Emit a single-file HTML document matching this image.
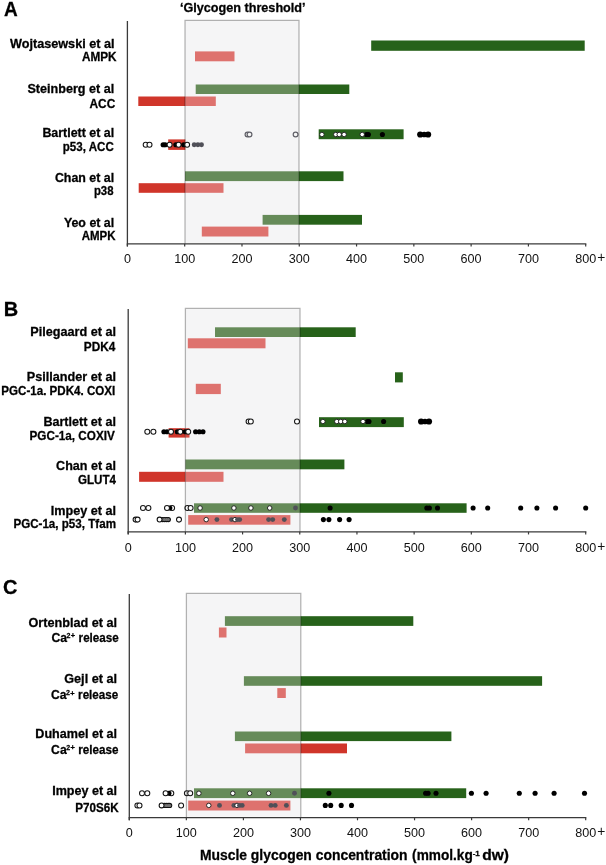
<!DOCTYPE html>
<html><head><meta charset="utf-8"><style>
html,body{margin:0;padding:0;background:#fff;}
svg{display:block;font-family:"Liberation Sans",sans-serif;}
text[font-weight="bold"]{stroke:#000;stroke-width:0.28px;}
svg{filter:blur(0.35px);}
</style></head><body>
<svg width="606" height="865" viewBox="0 0 606 865" fill="#000">
<rect x="185.00" y="20.30" width="114.00" height="222.60" fill="#f5f5f6"/>
<rect x="371.20" y="40.50" width="213.50" height="10.30" fill="#27621a"/>
<rect x="195.00" y="51.40" width="39.50" height="9.90" fill="#de726e"/>
<rect x="195.70" y="84.50" width="103.30" height="9.50" fill="#668b59"/>
<rect x="299.00" y="84.50" width="50.30" height="9.50" fill="#27621a"/>
<rect x="138.30" y="96.50" width="46.70" height="9.50" fill="#d0352a"/>
<rect x="185.00" y="96.50" width="30.80" height="9.50" fill="#de726e"/>
<rect x="168.20" y="139.40" width="16.80" height="10.50" fill="#d0352a"/>
<rect x="185.00" y="139.40" width="0.50" height="10.50" fill="#de726e"/>
<rect x="318.70" y="129.30" width="84.90" height="9.90" fill="#27621a"/>
<rect x="185.00" y="171.30" width="114.00" height="9.80" fill="#668b59"/>
<rect x="299.00" y="171.30" width="44.50" height="9.80" fill="#27621a"/>
<rect x="138.70" y="183.20" width="46.30" height="9.60" fill="#d0352a"/>
<rect x="185.00" y="183.20" width="38.50" height="9.60" fill="#de726e"/>
<rect x="262.60" y="214.90" width="36.40" height="9.80" fill="#668b59"/>
<rect x="299.00" y="214.90" width="63.00" height="9.80" fill="#27621a"/>
<rect x="201.80" y="226.60" width="66.60" height="9.90" fill="#de726e"/>
<circle cx="145.7" cy="144.8" r="2.5" fill="#fff" stroke="#151515" stroke-width="1.05"/>
<circle cx="149.5" cy="144.8" r="2.5" fill="#fff" stroke="#151515" stroke-width="1.05"/>
<circle cx="163.1" cy="144.8" r="2.55" fill="#000"/>
<circle cx="165.2" cy="144.8" r="2.55" fill="#000"/>
<circle cx="169.6" cy="144.8" r="2.5" fill="#fff" stroke="#151515" stroke-width="1.05"/>
<circle cx="175.8" cy="144.8" r="2.55" fill="#000"/>
<circle cx="178.6" cy="144.8" r="2.5" fill="#fff" stroke="#151515" stroke-width="1.05"/>
<circle cx="183.7" cy="144.8" r="2.55" fill="#000"/>
<circle cx="187.1" cy="144.8" r="2.5" fill="#fff" stroke="#151515" stroke-width="1.05"/>
<circle cx="194.2" cy="144.8" r="2.45" fill="#505058"/>
<circle cx="197.9" cy="144.8" r="2.45" fill="#505058"/>
<circle cx="201.5" cy="144.8" r="2.45" fill="#505058"/>
<circle cx="247.5" cy="134.5" r="2.4" fill="#f6f6f6" stroke="#606068" stroke-width="1.2"/>
<circle cx="249.5" cy="134.5" r="2.4" fill="#f6f6f6" stroke="#606068" stroke-width="1.2"/>
<circle cx="295.6" cy="134.5" r="2.4" fill="#f6f6f6" stroke="#606068" stroke-width="1.2"/>
<circle cx="321.9" cy="134.5" r="2.25" fill="#fff" stroke="#1a1a1a" stroke-width="0.9"/>
<circle cx="335.8" cy="134.5" r="2.25" fill="#fff" stroke="#1a1a1a" stroke-width="0.9"/>
<circle cx="339.2" cy="134.5" r="2.25" fill="#fff" stroke="#1a1a1a" stroke-width="0.9"/>
<circle cx="344.1" cy="134.5" r="2.25" fill="#fff" stroke="#1a1a1a" stroke-width="0.9"/>
<circle cx="366.5" cy="134.5" r="2.55" fill="#000"/>
<circle cx="368.4" cy="134.5" r="2.55" fill="#000"/>
<circle cx="362.2" cy="134.5" r="2.25" fill="#fff" stroke="#1a1a1a" stroke-width="0.9"/>
<circle cx="382.4" cy="134.5" r="2.55" fill="#000"/>
<circle cx="420.2" cy="134.5" r="3.1" fill="#000"/>
<circle cx="428.1" cy="134.5" r="3.1" fill="#000"/>
<circle cx="424.2" cy="134.5" r="2.85" fill="#000"/>
<path d="M185.0 243.9 V20.3 H299.0 V243.9" fill="none" stroke="rgba(0,0,0,0.29)" stroke-width="1.25"/>
<line x1="127.4" y1="21" x2="127.4" y2="246.4" stroke="#3a3a3a" stroke-width="1.3"/>
<line x1="126.75" y1="243.9" x2="586.35" y2="243.9" stroke="#3a3a3a" stroke-width="1.3"/>
<line x1="127.40" y1="243.9" x2="127.40" y2="246.5" stroke="#3a3a3a" stroke-width="1.2"/>
<text x="127.40" y="262.9" font-size="12.6" font-weight="normal" text-anchor="middle" fill="#111">0</text>
<line x1="184.69" y1="243.9" x2="184.69" y2="246.5" stroke="#3a3a3a" stroke-width="1.2"/>
<text x="184.69" y="262.9" font-size="12.6" font-weight="normal" text-anchor="middle" fill="#111">100</text>
<line x1="241.98" y1="243.9" x2="241.98" y2="246.5" stroke="#3a3a3a" stroke-width="1.2"/>
<text x="241.98" y="262.9" font-size="12.6" font-weight="normal" text-anchor="middle" fill="#111">200</text>
<line x1="299.26" y1="243.9" x2="299.26" y2="246.5" stroke="#3a3a3a" stroke-width="1.2"/>
<text x="299.26" y="262.9" font-size="12.6" font-weight="normal" text-anchor="middle" fill="#111">300</text>
<line x1="356.55" y1="243.9" x2="356.55" y2="246.5" stroke="#3a3a3a" stroke-width="1.2"/>
<text x="356.55" y="262.9" font-size="12.6" font-weight="normal" text-anchor="middle" fill="#111">400</text>
<line x1="413.84" y1="243.9" x2="413.84" y2="246.5" stroke="#3a3a3a" stroke-width="1.2"/>
<text x="413.84" y="262.9" font-size="12.6" font-weight="normal" text-anchor="middle" fill="#111">500</text>
<line x1="471.12" y1="243.9" x2="471.12" y2="246.5" stroke="#3a3a3a" stroke-width="1.2"/>
<text x="471.12" y="262.9" font-size="12.6" font-weight="normal" text-anchor="middle" fill="#111">600</text>
<line x1="528.41" y1="243.9" x2="528.41" y2="246.5" stroke="#3a3a3a" stroke-width="1.2"/>
<text x="528.41" y="262.9" font-size="12.6" font-weight="normal" text-anchor="middle" fill="#111">700</text>
<line x1="585.70" y1="243.9" x2="585.70" y2="246.5" stroke="#3a3a3a" stroke-width="1.2"/>
<text x="585.70" y="262.9" font-size="12.6" font-weight="normal" text-anchor="middle" fill="#111">800</text>
<text x="597.30" y="262.29999999999995" font-size="13.8" fill="#111">+</text>
<rect x="185.40" y="308.40" width="114.60" height="222.45" fill="#f5f5f6"/>
<rect x="215.00" y="327.30" width="85.00" height="9.70" fill="#668b59"/>
<rect x="300.00" y="327.30" width="55.70" height="9.70" fill="#27621a"/>
<rect x="187.80" y="338.30" width="77.70" height="10.00" fill="#de726e"/>
<rect x="395.00" y="372.30" width="7.80" height="10.10" fill="#27621a"/>
<rect x="195.80" y="383.80" width="25.00" height="10.30" fill="#de726e"/>
<rect x="168.60" y="428.20" width="16.80" height="9.40" fill="#d0352a"/>
<rect x="185.40" y="428.20" width="4.10" height="9.40" fill="#d94c42"/>
<rect x="319.00" y="417.20" width="84.80" height="9.90" fill="#27621a"/>
<rect x="185.40" y="459.50" width="114.60" height="9.80" fill="#668b59"/>
<rect x="300.00" y="459.50" width="44.40" height="9.80" fill="#27621a"/>
<rect x="139.10" y="471.80" width="46.30" height="10.00" fill="#d0352a"/>
<rect x="185.40" y="471.80" width="38.10" height="10.00" fill="#de726e"/>
<rect x="194.00" y="503.30" width="106.00" height="9.50" fill="#668b59"/>
<rect x="300.00" y="503.30" width="166.60" height="9.50" fill="#27621a"/>
<rect x="188.20" y="515.10" width="102.20" height="9.60" fill="#de726e"/>
<circle cx="147.3" cy="431.8" r="2.5" fill="#fff" stroke="#151515" stroke-width="1.05"/>
<circle cx="153.4" cy="431.8" r="2.5" fill="#fff" stroke="#151515" stroke-width="1.05"/>
<circle cx="163.9" cy="431.8" r="2.55" fill="#000"/>
<circle cx="167.0" cy="431.8" r="2.55" fill="#000"/>
<circle cx="171.0" cy="431.8" r="2.5" fill="#fff" stroke="#151515" stroke-width="1.05"/>
<circle cx="177.3" cy="431.8" r="2.55" fill="#000"/>
<circle cx="180.3" cy="431.8" r="2.5" fill="#fff" stroke="#151515" stroke-width="1.05"/>
<circle cx="185.2" cy="431.8" r="2.55" fill="#000"/>
<circle cx="188.2" cy="431.8" r="2.5" fill="#fff" stroke="#151515" stroke-width="1.05"/>
<circle cx="195.6" cy="431.8" r="2.55" fill="#000"/>
<circle cx="199.3" cy="431.8" r="2.55" fill="#000"/>
<circle cx="203.0" cy="431.8" r="2.55" fill="#000"/>
<circle cx="248.6" cy="421.5" r="2.5" fill="#fff" stroke="#151515" stroke-width="1.05"/>
<circle cx="250.8" cy="421.5" r="2.5" fill="#fff" stroke="#151515" stroke-width="1.05"/>
<circle cx="297.0" cy="421.5" r="2.5" fill="#fff" stroke="#151515" stroke-width="1.05"/>
<circle cx="322.9" cy="421.5" r="2.25" fill="#fff" stroke="#1a1a1a" stroke-width="0.9"/>
<circle cx="336.8" cy="421.5" r="2.25" fill="#fff" stroke="#1a1a1a" stroke-width="0.9"/>
<circle cx="340.7" cy="421.5" r="2.25" fill="#fff" stroke="#1a1a1a" stroke-width="0.9"/>
<circle cx="344.8" cy="421.5" r="2.25" fill="#fff" stroke="#1a1a1a" stroke-width="0.9"/>
<circle cx="367.5" cy="421.5" r="2.55" fill="#000"/>
<circle cx="369.0" cy="421.5" r="2.55" fill="#000"/>
<circle cx="363.0" cy="421.5" r="2.25" fill="#fff" stroke="#1a1a1a" stroke-width="0.9"/>
<circle cx="383.6" cy="421.5" r="2.55" fill="#000"/>
<circle cx="421.1" cy="421.5" r="3.1" fill="#000"/>
<circle cx="429.0" cy="421.5" r="3.1" fill="#000"/>
<circle cx="425.0" cy="421.5" r="2.85" fill="#000"/>
<circle cx="143.0" cy="508.0" r="2.5" fill="#fff" stroke="#151515" stroke-width="1.05"/>
<circle cx="148.4" cy="508.0" r="2.5" fill="#fff" stroke="#151515" stroke-width="1.05"/>
<circle cx="172.1" cy="508.0" r="2.5" fill="#fff" stroke="#151515" stroke-width="1.05"/>
<circle cx="169.8" cy="508.0" r="2.55" fill="#000"/>
<circle cx="167.0" cy="508.0" r="2.5" fill="#fff" stroke="#151515" stroke-width="1.05"/>
<circle cx="187.4" cy="508.0" r="2.5" fill="#fff" stroke="#151515" stroke-width="1.05"/>
<circle cx="190.6" cy="508.0" r="2.5" fill="#fff" stroke="#151515" stroke-width="1.05"/>
<circle cx="200.1" cy="508.0" r="2.25" fill="#fff" stroke="#1a1a1a" stroke-width="0.9"/>
<circle cx="233.9" cy="508.0" r="2.25" fill="#fff" stroke="#1a1a1a" stroke-width="0.9"/>
<circle cx="250.9" cy="508.0" r="2.25" fill="#fff" stroke="#1a1a1a" stroke-width="0.9"/>
<circle cx="269.7" cy="508.0" r="2.25" fill="#fff" stroke="#1a1a1a" stroke-width="0.9"/>
<circle cx="295.5" cy="508.0" r="2.45" fill="#505058"/>
<circle cx="330.1" cy="508.0" r="2.55" fill="#000"/>
<circle cx="426.8" cy="508.0" r="2.55" fill="#000"/>
<circle cx="429.4" cy="508.0" r="2.55" fill="#000"/>
<circle cx="437.5" cy="508.0" r="2.55" fill="#000"/>
<circle cx="473.1" cy="508.0" r="2.55" fill="#000"/>
<circle cx="487.7" cy="508.0" r="2.55" fill="#000"/>
<circle cx="520.7" cy="508.0" r="2.55" fill="#000"/>
<circle cx="536.9" cy="508.0" r="2.55" fill="#000"/>
<circle cx="555.6" cy="508.0" r="2.55" fill="#000"/>
<circle cx="585.7" cy="508.0" r="2.55" fill="#000"/>
<circle cx="162.5" cy="519.6" r="2.55" fill="#111"/>
<circle cx="164.5" cy="519.6" r="2.55" fill="#111"/>
<circle cx="166.5" cy="519.6" r="2.55" fill="#111"/>
<circle cx="168.4" cy="519.6" r="2.55" fill="#111"/>
<circle cx="162.5" cy="519.6" r="1.5" fill="#777"/>
<circle cx="164.5" cy="519.6" r="1.5" fill="#777"/>
<circle cx="166.5" cy="519.6" r="1.5" fill="#777"/>
<circle cx="168.4" cy="519.6" r="1.5" fill="#777"/>
<circle cx="159.6" cy="519.6" r="2.45" fill="#fff" stroke="#111" stroke-width="1.1"/>
<circle cx="135.6" cy="519.6" r="2.5" fill="#fff" stroke="#151515" stroke-width="1.05"/>
<circle cx="137.6" cy="519.6" r="2.5" fill="#fff" stroke="#151515" stroke-width="1.05"/>
<circle cx="179.0" cy="519.6" r="2.5" fill="#fff" stroke="#151515" stroke-width="1.05"/>
<circle cx="206.2" cy="519.6" r="2.25" fill="#fff" stroke="#1a1a1a" stroke-width="0.9"/>
<circle cx="216.9" cy="519.6" r="2.45" fill="#505058"/>
<circle cx="231.5" cy="519.6" r="2.45" fill="#505058"/>
<circle cx="235.0" cy="519.6" r="2.25" fill="#fff" stroke="#1a1a1a" stroke-width="0.9"/>
<circle cx="237.5" cy="519.6" r="2.45" fill="#505058"/>
<circle cx="239.7" cy="519.6" r="2.45" fill="#505058"/>
<circle cx="268.6" cy="519.6" r="2.45" fill="#505058"/>
<circle cx="272.7" cy="519.6" r="2.45" fill="#505058"/>
<circle cx="284.3" cy="519.6" r="2.45" fill="#505058"/>
<circle cx="323.4" cy="519.6" r="2.55" fill="#000"/>
<circle cx="328.9" cy="519.6" r="2.55" fill="#000"/>
<circle cx="339.6" cy="519.6" r="2.55" fill="#000"/>
<circle cx="349.1" cy="519.6" r="2.55" fill="#000"/>
<path d="M185.4 531.85 V308.4 H300.0 V531.85" fill="none" stroke="rgba(0,0,0,0.29)" stroke-width="1.25"/>
<line x1="128.2" y1="309" x2="128.2" y2="534.35" stroke="#3a3a3a" stroke-width="1.3"/>
<line x1="127.54999999999998" y1="531.85" x2="586.35" y2="531.85" stroke="#3a3a3a" stroke-width="1.3"/>
<line x1="128.20" y1="531.85" x2="128.20" y2="534.45" stroke="#3a3a3a" stroke-width="1.2"/>
<text x="128.20" y="551.7" font-size="12.6" font-weight="normal" text-anchor="middle" fill="#111">0</text>
<line x1="185.39" y1="531.85" x2="185.39" y2="534.45" stroke="#3a3a3a" stroke-width="1.2"/>
<text x="185.39" y="551.7" font-size="12.6" font-weight="normal" text-anchor="middle" fill="#111">100</text>
<line x1="242.57" y1="531.85" x2="242.57" y2="534.45" stroke="#3a3a3a" stroke-width="1.2"/>
<text x="242.57" y="551.7" font-size="12.6" font-weight="normal" text-anchor="middle" fill="#111">200</text>
<line x1="299.76" y1="531.85" x2="299.76" y2="534.45" stroke="#3a3a3a" stroke-width="1.2"/>
<text x="299.76" y="551.7" font-size="12.6" font-weight="normal" text-anchor="middle" fill="#111">300</text>
<line x1="356.95" y1="531.85" x2="356.95" y2="534.45" stroke="#3a3a3a" stroke-width="1.2"/>
<text x="356.95" y="551.7" font-size="12.6" font-weight="normal" text-anchor="middle" fill="#111">400</text>
<line x1="414.14" y1="531.85" x2="414.14" y2="534.45" stroke="#3a3a3a" stroke-width="1.2"/>
<text x="414.14" y="551.7" font-size="12.6" font-weight="normal" text-anchor="middle" fill="#111">500</text>
<line x1="471.33" y1="531.85" x2="471.33" y2="534.45" stroke="#3a3a3a" stroke-width="1.2"/>
<text x="471.33" y="551.7" font-size="12.6" font-weight="normal" text-anchor="middle" fill="#111">600</text>
<line x1="528.51" y1="531.85" x2="528.51" y2="534.45" stroke="#3a3a3a" stroke-width="1.2"/>
<text x="528.51" y="551.7" font-size="12.6" font-weight="normal" text-anchor="middle" fill="#111">700</text>
<line x1="585.70" y1="531.85" x2="585.70" y2="534.45" stroke="#3a3a3a" stroke-width="1.2"/>
<text x="585.70" y="551.7" font-size="12.6" font-weight="normal" text-anchor="middle" fill="#111">800</text>
<text x="597.30" y="551.1" font-size="13.8" fill="#111">+</text>
<rect x="186.40" y="593.30" width="114.40" height="223.40" fill="#f5f5f6"/>
<rect x="224.90" y="616.20" width="75.90" height="9.70" fill="#668b59"/>
<rect x="300.80" y="616.20" width="112.50" height="9.70" fill="#27621a"/>
<rect x="218.90" y="627.50" width="7.60" height="10.00" fill="#de726e"/>
<rect x="243.90" y="676.20" width="56.90" height="9.60" fill="#668b59"/>
<rect x="300.80" y="676.20" width="241.30" height="9.60" fill="#27621a"/>
<rect x="277.30" y="688.10" width="8.50" height="9.90" fill="#de726e"/>
<rect x="234.90" y="731.50" width="65.90" height="9.60" fill="#668b59"/>
<rect x="300.80" y="731.50" width="150.60" height="9.60" fill="#27621a"/>
<rect x="245.10" y="743.50" width="55.70" height="9.80" fill="#de726e"/>
<rect x="300.80" y="743.50" width="46.20" height="9.80" fill="#d0352a"/>
<rect x="194.00" y="788.30" width="106.80" height="9.80" fill="#668b59"/>
<rect x="300.80" y="788.30" width="165.40" height="9.80" fill="#27621a"/>
<rect x="188.20" y="800.60" width="102.20" height="9.90" fill="#de726e"/>
<circle cx="142.0" cy="793.3" r="2.5" fill="#fff" stroke="#151515" stroke-width="1.05"/>
<circle cx="147.3" cy="793.3" r="2.5" fill="#fff" stroke="#151515" stroke-width="1.05"/>
<circle cx="171.3" cy="793.3" r="2.5" fill="#fff" stroke="#151515" stroke-width="1.05"/>
<circle cx="168.9" cy="793.3" r="2.55" fill="#000"/>
<circle cx="165.6" cy="793.3" r="2.5" fill="#fff" stroke="#151515" stroke-width="1.05"/>
<circle cx="186.9" cy="793.3" r="2.5" fill="#fff" stroke="#151515" stroke-width="1.05"/>
<circle cx="190.2" cy="793.3" r="2.5" fill="#fff" stroke="#151515" stroke-width="1.05"/>
<circle cx="198.9" cy="793.3" r="2.25" fill="#fff" stroke="#1a1a1a" stroke-width="0.9"/>
<circle cx="232.8" cy="793.3" r="2.25" fill="#fff" stroke="#1a1a1a" stroke-width="0.9"/>
<circle cx="249.6" cy="793.3" r="2.25" fill="#fff" stroke="#1a1a1a" stroke-width="0.9"/>
<circle cx="268.6" cy="793.3" r="2.25" fill="#fff" stroke="#1a1a1a" stroke-width="0.9"/>
<circle cx="294.5" cy="793.3" r="2.45" fill="#505058"/>
<circle cx="328.9" cy="793.3" r="2.55" fill="#000"/>
<circle cx="425.6" cy="793.3" r="2.55" fill="#000"/>
<circle cx="428.1" cy="793.3" r="2.55" fill="#000"/>
<circle cx="436.0" cy="793.3" r="2.55" fill="#000"/>
<circle cx="471.4" cy="793.3" r="2.55" fill="#000"/>
<circle cx="486.1" cy="793.3" r="2.55" fill="#000"/>
<circle cx="519.3" cy="793.3" r="2.55" fill="#000"/>
<circle cx="535.1" cy="793.3" r="2.55" fill="#000"/>
<circle cx="554.1" cy="793.3" r="2.55" fill="#000"/>
<circle cx="584.5" cy="793.3" r="2.55" fill="#000"/>
<circle cx="164.4" cy="805.4" r="2.55" fill="#111"/>
<circle cx="166.3" cy="805.4" r="2.55" fill="#111"/>
<circle cx="168.2" cy="805.4" r="2.55" fill="#111"/>
<circle cx="169.7" cy="805.4" r="2.55" fill="#111"/>
<circle cx="164.4" cy="805.4" r="1.5" fill="#777"/>
<circle cx="166.3" cy="805.4" r="1.5" fill="#777"/>
<circle cx="168.2" cy="805.4" r="1.5" fill="#777"/>
<circle cx="169.7" cy="805.4" r="1.5" fill="#777"/>
<circle cx="161.6" cy="805.4" r="2.45" fill="#fff" stroke="#111" stroke-width="1.1"/>
<circle cx="137.4" cy="805.4" r="2.5" fill="#fff" stroke="#151515" stroke-width="1.05"/>
<circle cx="139.5" cy="805.4" r="2.5" fill="#fff" stroke="#151515" stroke-width="1.05"/>
<circle cx="181.1" cy="805.4" r="2.5" fill="#fff" stroke="#151515" stroke-width="1.05"/>
<circle cx="208.8" cy="805.4" r="2.25" fill="#fff" stroke="#1a1a1a" stroke-width="0.9"/>
<circle cx="219.5" cy="805.4" r="2.45" fill="#505058"/>
<circle cx="233.9" cy="805.4" r="2.45" fill="#505058"/>
<circle cx="237.0" cy="805.4" r="2.25" fill="#fff" stroke="#1a1a1a" stroke-width="0.9"/>
<circle cx="239.5" cy="805.4" r="2.45" fill="#505058"/>
<circle cx="242.2" cy="805.4" r="2.45" fill="#505058"/>
<circle cx="271.0" cy="805.4" r="2.45" fill="#505058"/>
<circle cx="275.2" cy="805.4" r="2.45" fill="#505058"/>
<circle cx="286.4" cy="805.4" r="2.45" fill="#505058"/>
<circle cx="325.3" cy="805.4" r="2.55" fill="#000"/>
<circle cx="330.7" cy="805.4" r="2.55" fill="#000"/>
<circle cx="341.2" cy="805.4" r="2.55" fill="#000"/>
<circle cx="351.5" cy="805.4" r="2.55" fill="#000"/>
<path d="M186.4 817.7 V593.3 H300.8 V817.7" fill="none" stroke="rgba(0,0,0,0.29)" stroke-width="1.25"/>
<line x1="129.3" y1="594" x2="129.3" y2="820.2" stroke="#3a3a3a" stroke-width="1.3"/>
<line x1="128.65" y1="817.7" x2="586.35" y2="817.7" stroke="#3a3a3a" stroke-width="1.3"/>
<line x1="129.30" y1="817.7" x2="129.30" y2="820.3000000000001" stroke="#3a3a3a" stroke-width="1.2"/>
<text x="129.30" y="836.6" font-size="12.6" font-weight="normal" text-anchor="middle" fill="#111">0</text>
<line x1="186.35" y1="817.7" x2="186.35" y2="820.3000000000001" stroke="#3a3a3a" stroke-width="1.2"/>
<text x="186.35" y="836.6" font-size="12.6" font-weight="normal" text-anchor="middle" fill="#111">100</text>
<line x1="243.40" y1="817.7" x2="243.40" y2="820.3000000000001" stroke="#3a3a3a" stroke-width="1.2"/>
<text x="243.40" y="836.6" font-size="12.6" font-weight="normal" text-anchor="middle" fill="#111">200</text>
<line x1="300.45" y1="817.7" x2="300.45" y2="820.3000000000001" stroke="#3a3a3a" stroke-width="1.2"/>
<text x="300.45" y="836.6" font-size="12.6" font-weight="normal" text-anchor="middle" fill="#111">300</text>
<line x1="357.50" y1="817.7" x2="357.50" y2="820.3000000000001" stroke="#3a3a3a" stroke-width="1.2"/>
<text x="357.50" y="836.6" font-size="12.6" font-weight="normal" text-anchor="middle" fill="#111">400</text>
<line x1="414.55" y1="817.7" x2="414.55" y2="820.3000000000001" stroke="#3a3a3a" stroke-width="1.2"/>
<text x="414.55" y="836.6" font-size="12.6" font-weight="normal" text-anchor="middle" fill="#111">500</text>
<line x1="471.60" y1="817.7" x2="471.60" y2="820.3000000000001" stroke="#3a3a3a" stroke-width="1.2"/>
<text x="471.60" y="836.6" font-size="12.6" font-weight="normal" text-anchor="middle" fill="#111">600</text>
<line x1="528.65" y1="817.7" x2="528.65" y2="820.3000000000001" stroke="#3a3a3a" stroke-width="1.2"/>
<text x="528.65" y="836.6" font-size="12.6" font-weight="normal" text-anchor="middle" fill="#111">700</text>
<line x1="585.70" y1="817.7" x2="585.70" y2="820.3000000000001" stroke="#3a3a3a" stroke-width="1.2"/>
<text x="585.70" y="836.6" font-size="12.6" font-weight="normal" text-anchor="middle" fill="#111">800</text>
<text x="597.30" y="836.0" font-size="13.8" fill="#111">+</text>
<text x="10.0" y="47.8" font-size="12.2" font-weight="bold" textLength="104.5" lengthAdjust="spacingAndGlyphs">Wojtasewski et al</text>
<text x="81.9" y="60.7" font-size="12.2" font-weight="bold" textLength="34.6" lengthAdjust="spacingAndGlyphs">AMPK</text>
<text x="27.4" y="92.8" font-size="12.2" font-weight="bold" textLength="86.8" lengthAdjust="spacingAndGlyphs">Steinberg et al</text>
<text x="89.5" y="107.8" font-size="12.2" font-weight="bold" textLength="25.8" lengthAdjust="spacingAndGlyphs">ACC</text>
<text x="42.4" y="137.2" font-size="12.2" font-weight="bold" textLength="71.8" lengthAdjust="spacingAndGlyphs">Bartlett et al</text>
<text x="62.8" y="151.2" font-size="12.2" font-weight="bold" textLength="51.0" lengthAdjust="spacingAndGlyphs">p53, ACC</text>
<text x="54.9" y="182.1" font-size="12.2" font-weight="bold" textLength="59.3" lengthAdjust="spacingAndGlyphs">Chan et al</text>
<text x="93.9" y="194.8" font-size="12.2" font-weight="bold" textLength="19.6" lengthAdjust="spacingAndGlyphs">p38</text>
<text x="63.9" y="227.2" font-size="12.2" font-weight="bold" textLength="50.3" lengthAdjust="spacingAndGlyphs">Yeo et al</text>
<text x="81.7" y="239.8" font-size="12.2" font-weight="bold" textLength="33.8" lengthAdjust="spacingAndGlyphs">AMPK</text>
<text x="30.2" y="336.2" font-size="12.2" font-weight="bold" textLength="85.8" lengthAdjust="spacingAndGlyphs">Pilegaard et al</text>
<text x="83.8" y="350.5" font-size="12.2" font-weight="bold" textLength="31.5" lengthAdjust="spacingAndGlyphs">PDK4</text>
<text x="26.8" y="380.8" font-size="12.2" font-weight="bold" textLength="89.2" lengthAdjust="spacingAndGlyphs">Psillander et al</text>
<text x="1.3" y="395.3" font-size="12.2" font-weight="bold" textLength="114.0" lengthAdjust="spacingAndGlyphs">PGC-1a. PDK4. COXI</text>
<text x="43.4" y="425.8" font-size="12.2" font-weight="bold" textLength="72.6" lengthAdjust="spacingAndGlyphs">Bartlett et al</text>
<text x="29.5" y="439.7" font-size="12.2" font-weight="bold" textLength="85.3" lengthAdjust="spacingAndGlyphs">PGC-1a, COXIV</text>
<text x="56.1" y="469.6" font-size="12.2" font-weight="bold" textLength="59.9" lengthAdjust="spacingAndGlyphs">Chan et al</text>
<text x="78.0" y="484.2" font-size="12.2" font-weight="bold" textLength="38.0" lengthAdjust="spacingAndGlyphs">GLUT4</text>
<text x="50.8" y="514.7" font-size="12.2" font-weight="bold" textLength="65.2" lengthAdjust="spacingAndGlyphs">Impey et al</text>
<text x="13.4" y="528.1" font-size="12.2" font-weight="bold" textLength="102.6" lengthAdjust="spacingAndGlyphs">PGC-1a, p53, Tfam</text>
<text x="28.4" y="627.3" font-size="12.2" font-weight="bold" textLength="88.7" lengthAdjust="spacingAndGlyphs">Ortenblad et al</text>
<text x="64.2" y="682.6" font-size="12.2" font-weight="bold" textLength="52.9" lengthAdjust="spacingAndGlyphs">Gejl et al</text>
<text x="35.3" y="738.0" font-size="12.2" font-weight="bold" textLength="81.8" lengthAdjust="spacingAndGlyphs">Duhamel et al</text>
<text x="52.2" y="794.7" font-size="12.2" font-weight="bold" textLength="64.9" lengthAdjust="spacingAndGlyphs">Impey et al</text>
<text x="75.3" y="811.6" font-size="12.2" font-weight="bold" textLength="43.4" lengthAdjust="spacingAndGlyphs">P70S6K</text>
<text x="51.4" y="641.6" font-size="12.2" font-weight="bold">Ca</text>
<text x="66.6" y="637.7" font-size="7.0" font-weight="bold">2</text>
<text x="70.7" y="637.9" font-size="7.4" font-weight="bold">+</text>
<text x="78.6" y="641.6" font-size="12.2" font-weight="bold" textLength="40.2" lengthAdjust="spacingAndGlyphs">release</text>
<text x="50.9" y="699.3" font-size="12.2" font-weight="bold">Ca</text>
<text x="66.1" y="695.4" font-size="7.0" font-weight="bold">2</text>
<text x="70.2" y="695.6" font-size="7.4" font-weight="bold">+</text>
<text x="78.1" y="699.3" font-size="12.2" font-weight="bold" textLength="40.2" lengthAdjust="spacingAndGlyphs">release</text>
<text x="51.1" y="753.5" font-size="12.2" font-weight="bold">Ca</text>
<text x="66.3" y="749.6" font-size="7.0" font-weight="bold">2</text>
<text x="70.4" y="749.8" font-size="7.4" font-weight="bold">+</text>
<text x="78.3" y="753.5" font-size="12.2" font-weight="bold" textLength="40.2" lengthAdjust="spacingAndGlyphs">release</text>
<text transform="translate(3.9,15.7) scale(0.95,1)" font-size="20" font-weight="bold">A</text>
<text x="3.8" y="315.8" font-size="20" font-weight="bold">B</text>
<text x="3.1" y="594.2" font-size="20" font-weight="bold">C</text>
<text x="179.9" y="12.2" font-size="12.4" font-weight="bold" textLength="125.7" lengthAdjust="spacingAndGlyphs">‘Glycogen threshold’</text>
<text x="199.9" y="860.4" font-size="14" font-weight="bold" textLength="207.7" lengthAdjust="spacingAndGlyphs">Muscle glycogen concentration</text>
<text x="412.1" y="860.4" font-size="14" font-weight="bold" textLength="60.7" lengthAdjust="spacingAndGlyphs">(mmol.kg</text>
<text x="472.7" y="855.8" font-size="8" font-weight="bold">-1</text>
<text x="482.2" y="860.4" font-size="14" font-weight="bold" textLength="26.7" lengthAdjust="spacingAndGlyphs">dw)</text>
</svg>
</body></html>
